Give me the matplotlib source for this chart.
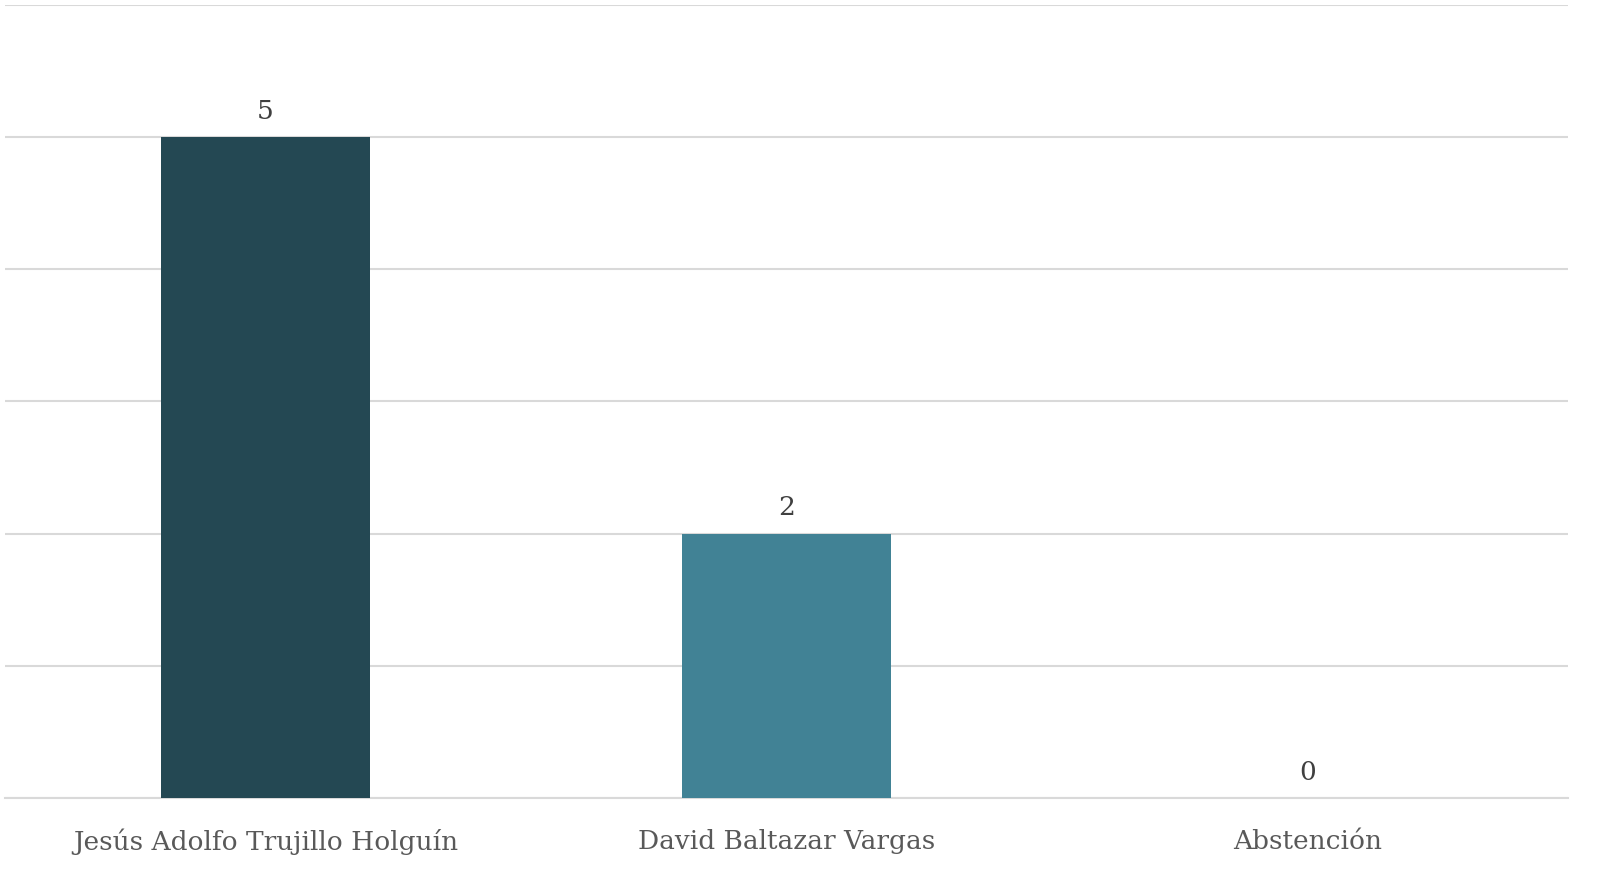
import matplotlib.pyplot as plt

categories = ["Jesús Adolfo Trujillo Holguín", "David Baltazar Vargas", "Abstención"]
votes = [5, 2, 0]
colors = ["#244853", "#418295", "#6fb0c0"]

plt.rcParams['font.family'] = ['DejaVu Serif']

fig = plt.figure(figsize=(16, 8.71), dpi=100)
ax = fig.add_axes([5 / 1600, 1 - 798 / 871, 1563 / 1600, 793 / 871])

x = range(len(categories))
bars = ax.bar(x, votes, width=0.4, color=colors, zorder=3)

for i, v in enumerate(votes):
    ax.text(i, v + 0.1, str(v), ha="center", va="bottom", fontsize=19, color="#404040")

ax.set_xlim(-0.5, len(categories) - 0.5)
ax.set_ylim(0, 6)
ax.set_yticks(range(0, 7))
ax.yaxis.grid(True, color="#d9d9d9", linewidth=1.5, zorder=0)
ax.tick_params(axis="y", left=False, labelleft=False)
ax.tick_params(axis="x", length=0, pad=22, labelsize=19, labelcolor="#595959")
ax.set_xticks(list(x))
ax.set_xticklabels(categories)
for s in ["top", "right", "left"]:
    ax.spines[s].set_visible(False)
ax.spines["bottom"].set_color("#d9d9d9")
ax.spines["bottom"].set_linewidth(1.5)

fig.savefig("out.png", dpi=100)
